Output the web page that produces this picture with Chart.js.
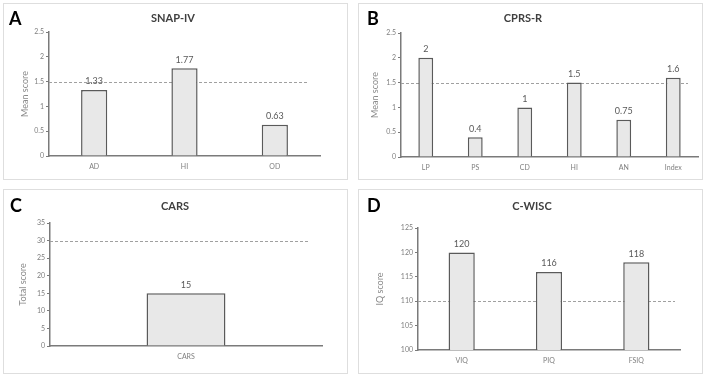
<!DOCTYPE html>
<html>
<head>
<meta charset="utf-8">
<script src="https://cdn.jsdelivr.net/npm/chart.js@4.4.0/dist/chart.umd.min.js"></script>
<style>
body { margin: 0; background: #fff; width: 709px; height: 377px; position: relative; overflow: hidden; }
.panel { position: absolute; border: 1px solid #dedede; box-sizing: border-box; background: #fff; }
canvas { display: block; }
</style>
</head>
<body>
<div class="panel" style="left:3px;top:3px;width:345px;height:177px"><canvas id="chartA" width="343" height="175"></canvas></div>
<div class="panel" style="left:358px;top:3px;width:345px;height:177px"><canvas id="chartB" width="343" height="175"></canvas></div>
<div class="panel" style="left:3px;top:189px;width:345px;height:185px"><canvas id="chartC" width="343" height="183"></canvas></div>
<div class="panel" style="left:358px;top:189px;width:345px;height:185px"><canvas id="chartD" width="343" height="183"></canvas></div>
<script>
// panel A - SNAP-IV
var snapLabels = ['AD', 'HI', 'OD'];
var snapValues = [1.33, 1.77, 0.63];
var snapTicks = [0, 0.5, 1, 1.5, 2, 2.5];
var snapCutoff = 1.5;

// panel B - CPRS-R
var cprsLabels = ['LP', 'PS', 'CD', 'HI', 'AN', 'Index'];
var cprsValues = [2, 0.4, 1, 1.5, 0.75, 1.6];
var cprsTicks = [0, 0.5, 1, 1.5, 2, 2.5];
var cprsCutoff = 1.5;

// panel C - CARS
var carsLabels = ['CARS'];
var carsValues = [15];
var carsTicks = [0, 5, 10, 15, 20, 25, 30, 35];
var carsCutoff = 30;

// panel D - C-WISC
var wiscLabels = ['VIQ', 'PIQ', 'FSIQ'];
var wiscValues = [120, 116, 118];
var wiscTicks = [100, 105, 110, 115, 120, 125];
var wiscCutoff = 110;

var FONT = 'Lato, "Open Sans", sans-serif';

// letter, title, dashed cutoff line and value labels
var panelDecor = {
    id: 'panelDecor',
    beforeDatasetsDraw: function (chart, args, o) {
        var ctx = chart.ctx;
        var area = chart.chartArea;
        var yy = Math.round(chart.scales.y.getPixelForValue(o.cutoff)) + 0.5;
        ctx.save();
        ctx.strokeStyle = '#a0a0a0';
        ctx.lineWidth = 1;
        ctx.setLineDash([3, 2]);
        ctx.beginPath();
        ctx.moveTo(area.left, yy);
        ctx.lineTo(area.right - o.dashTrim, yy);
        ctx.stroke();
        ctx.restore();
    },
    afterDatasetsDraw: function (chart, args, o) {
        var ctx = chart.ctx;
        ctx.save();
        ctx.fillStyle = '#000';
        ctx.font = 'bold 18px ' + FONT;
        ctx.textAlign = 'left';
        ctx.textBaseline = 'middle';
        ctx.fillText(o.letter, o.letterX, o.letterY);

        ctx.fillStyle = '#404040';
        ctx.font = 'bold 11px ' + FONT;
        ctx.textAlign = 'center';
        ctx.fillText(o.title, o.titleX, o.titleY);

        var meta = chart.getDatasetMeta(0);
        var data = chart.data.datasets[0].data;
        ctx.fillStyle = '#595959';
        ctx.font = '9px ' + FONT;
        ctx.textBaseline = 'bottom';
        meta.data.forEach(function (bar, i) {
            ctx.fillText(String(data[i]), bar.x, bar.y - 4);
        });
        ctx.restore();
    }
};

function makePanel(id, labels, values, ticks, cutoff, cfg) {
    var ctx = document.getElementById(id).getContext('2d');
    return new Chart(ctx, {
        type: 'bar',
        data: {
            labels: labels,
            datasets: [{
                data: values,
                backgroundColor: '#e8e8e8',
                borderColor: '#5a5a5a',
                borderWidth: 1.5,
                categoryPercentage: 1,
                barPercentage: cfg.barPct
            }]
        },
        options: {
            responsive: false,
            animation: false,
            devicePixelRatio: 1,
            layout: { padding: cfg.padding },
            plugins: {
                legend: { display: false },
                tooltip: { enabled: false },
                panelDecor: {
                    letter: cfg.letter, letterX: cfg.letterX, letterY: cfg.letterY,
                    title: cfg.title, titleX: cfg.titleX, titleY: cfg.titleY,
                    cutoff: cutoff, dashTrim: cfg.dashTrim
                }
            },
            scales: {
                x: {
                    grid: { display: false, drawTicks: true, tickLength: 4 },
                    border: { display: true, color: '#7a7a7a', width: 1.5 },
                    ticks: { color: '#7f7f7f', font: { family: FONT, size: 7 }, padding: 3 },
                    afterFit: function (s) { s.height = 18; }
                },
                y: {
                    min: ticks[0],
                    max: ticks[ticks.length - 1],
                    afterBuildTicks: function (s) {
                        s.ticks = ticks.map(function (v) { return { value: v }; });
                    },
                    grid: { display: true, drawOnChartArea: false, drawTicks: true, tickLength: 3, color: '#7a7a7a', lineWidth: 1 },
                    border: { display: true, color: '#7a7a7a', width: 1.5 },
                    ticks: {
                        color: '#7f7f7f', font: { family: FONT, size: 7 }, padding: 2,
                        callback: function (v) { return String(v); }
                    },
                    title: { display: true, text: cfg.yTitle, color: '#8a8a8a', font: { family: FONT, size: 9 }, padding: { top: 4, bottom: 2 } },
                    afterFit: function (s) { s.width = cfg.yWidth; }
                }
            }
        },
        plugins: [panelDecor]
    });
}

makePanel('chartA', snapLabels, snapValues, snapTicks, snapCutoff, {
    letter: 'A', letterX: 5, letterY: 15, title: 'SNAP-IV', titleX: 169, titleY: 14,
    yTitle: 'Mean score', yWidth: 33, barPct: 0.29, dashTrim: 12,
    padding: { left: 12, top: 28, right: 27, bottom: 5 }
});

makePanel('chartB', cprsLabels, cprsValues, cprsTicks, cprsCutoff, {
    letter: 'B', letterX: 8, letterY: 15, title: 'CPRS-R', titleX: 164, titleY: 14,
    yTitle: 'Mean score', yWidth: 35, barPct: 0.3, dashTrim: 10,
    padding: { left: 7, top: 29, right: 4, bottom: 4 }
});

makePanel('chartC', carsLabels, carsValues, carsTicks, carsCutoff, {
    letter: 'C', letterX: 6, letterY: 16, title: 'CARS', titleX: 171, titleY: 16,
    yTitle: 'Total score', yWidth: 36, barPct: 0.29, dashTrim: 14,
    padding: { left: 10, top: 33, right: 25, bottom: 9 }
});

makePanel('chartD', wiscLabels, wiscValues, wiscTicks, wiscCutoff, {
    letter: 'D', letterX: 8, letterY: 16, title: 'C-WISC', titleX: 173, titleY: 16,
    yTitle: 'IQ score', yWidth: 47, barPct: 0.3, dashTrim: 5,
    padding: { left: 12, top: 38, right: 22, bottom: 5 }
});
</script>
</body>
</html>
